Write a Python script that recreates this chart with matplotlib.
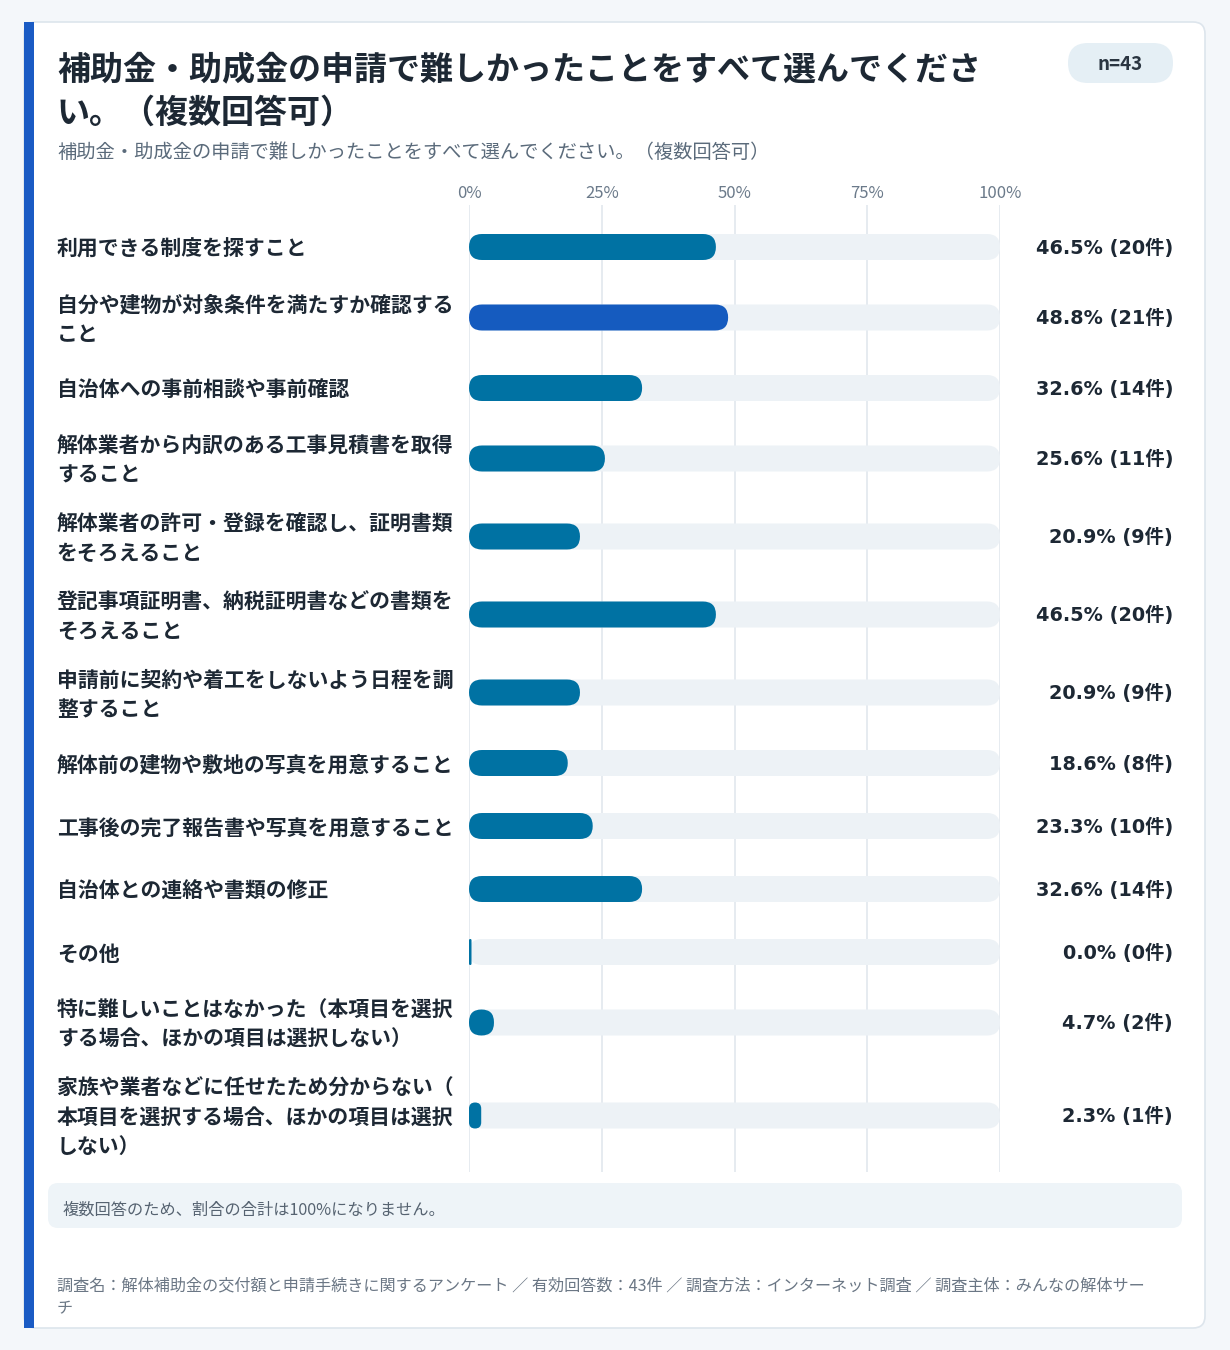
import matplotlib
matplotlib.use("Agg")
import matplotlib.pyplot as plt
from matplotlib.patches import FancyBboxPatch, Rectangle

plt.rcParams['font.family'] = ['Noto Sans CJK JP', 'DejaVu Sans']

# ---------------- data ----------------
title = "補助金・助成金の申請で難しかったことをすべて選んでくださ\nい。（複数回答可）"
subtitle = "補助金・助成金の申請で難しかったことをすべて選んでください。（複数回答可）"
n_label = "n=43"
categories = [
    "利用できる制度を探すこと",
    "自分や建物が対象条件を満たすか確認する\nこと",
    "自治体への事前相談や事前確認",
    "解体業者から内訳のある工事見積書を取得\nすること",
    "解体業者の許可・登録を確認し、証明書類\nをそろえること",
    "登記事項証明書、納税証明書などの書類を\nそろえること",
    "申請前に契約や着工をしないよう日程を調\n整すること",
    "解体前の建物や敷地の写真を用意すること",
    "工事後の完了報告書や写真を用意すること",
    "自治体との連絡や書類の修正",
    "その他",
    "特に難しいことはなかった（本項目を選択\nする場合、ほかの項目は選択しない）",
    "家族や業者などに任せたため分からない（\n本項目を選択する場合、ほかの項目は選択\nしない）",
]
percents = [46.5, 48.8, 32.6, 25.6, 20.9, 46.5, 20.9, 18.6, 23.3, 32.6, 0.0, 4.7, 2.3]
counts = [20, 21, 14, 11, 9, 20, 9, 8, 10, 14, 0, 2, 1]
ticks = [0, 25, 50, 75, 100]
tick_labels = ["0%", "25%", "50%", "75%", "100%"]
note = "複数回答のため、割合の合計は100%になりません。"
footer = ("調査名：解体補助金の交付額と申請手続きに関するアンケート ／ 有効回答数：43件 ／ "
          "調査方法：インターネット調査 ／ 調査主体：みんなの解体サー\nチ")

# ---------------- style ----------------
W, H = 1230, 1350
BG = "#f4f7fa"
CARD_EDGE = "#dde5ec"
ACCENT = "#1a5bc4"
BAR = "#0072a3"
BAR_HI = "#155bbf"
TRACK = "#edf2f6"
GRID = "#e2e8ee"
DARK = "#1d2834"
SUB = "#5b6b7b"
TICK = "#6b7a8a"

fig = plt.figure(figsize=(W / 100, H / 100), dpi=100, facecolor=BG)
bg = fig.add_axes([0, 0, 1, 1])
bg.set_xlim(0, W)
bg.set_ylim(H, 0)
bg.axis("off")
bg.set_facecolor(BG)


def mtext(ax, x, y, s, lh, **kw):
    lines = s.split("\n")
    n = len(lines)
    for i, ln in enumerate(lines):
        ax.text(x, y + (i - (n - 1) / 2) * lh, ln, **kw)


# card
bg.add_patch(FancyBboxPatch((24, 22), 1181, 1306, boxstyle="round,pad=0,rounding_size=12",
                            fc="white", ec=CARD_EDGE, lw=1.2, zorder=1))
bg.add_patch(Rectangle((24, 22), 10, 1306, fc=ACCENT, ec="none", zorder=2))

# title / subtitle
mtext(bg, 57, 91.5, title, 44, fontsize=23.8, fontweight="bold", color=DARK,
      ha="left", va="center", zorder=3)
bg.text(57, 152, subtitle, fontsize=13.9, color=SUB, ha="left", va="center", zorder=3)

# n pill
bg.add_patch(FancyBboxPatch((1068, 43), 105, 40, boxstyle="round,pad=0,rounding_size=20",
                            fc="#e5eff5", ec="none", zorder=2))
bg.text(1120.5, 64, n_label, fontsize=13.5, fontweight="bold", color="#2a3541",
        ha="center", va="center", zorder=3)

# ---------------- bar area ----------------
ax_left, ax_right, ax_top, ax_bot = 469, 1000, 205, 1172
ax = fig.add_axes([ax_left / W, 1 - ax_bot / H, (ax_right - ax_left) / W, (ax_bot - ax_top) / H])
ax.set_facecolor("none")
ax_h = ax_bot - ax_top
ax.set_xlim(0, 100)
ax.set_ylim(ax_h, 0)
for s in ax.spines.values():
    s.set_visible(False)
ax.xaxis.tick_top()
ax.set_xticks(ticks)
ax.set_xticklabels(tick_labels)
ax.tick_params(axis="x", length=0, pad=2, labelsize=12, labelcolor=TICK)
ax.set_yticks([])
for t in ticks:
    ax.axvline(t, color=GRID, lw=1.2, zorder=0)

ppx = (ax_right - ax_left) / 100.0  # pixels per percent
row_h = {1: 63, 2: 78, 3: 108}
bar_h = 26
start = 10.5
centers = []
for lab in categories:
    h = row_h[lab.count("\n") + 1]
    centers.append(start + h / 2)
    start += h

vmax = max(percents)
for lab, v, c, yc in zip(categories, percents, counts, centers):
    # track
    r_full = (bar_h / 2) / ppx
    ax.add_patch(FancyBboxPatch((0, yc - bar_h / 2), 100, bar_h,
                                boxstyle=f"round,pad=0,rounding_size={r_full}",
                                mutation_aspect=ppx, fc=TRACK, ec="none", zorder=1))
    w = max(v, 2.5 / ppx)
    r = min(r_full, w / 2)
    ax.add_patch(FancyBboxPatch((0, yc - bar_h / 2), w, bar_h,
                                boxstyle=f"round,pad=0,rounding_size={r}",
                                mutation_aspect=ppx, fc=BAR_HI if v == vmax else BAR,
                                ec="none", zorder=2))
    ypx = ax_top + yc
    mtext(bg, 57, ypx + 2, lab, 29, fontsize=15.0, fontweight="bold", color=DARK,
          ha="left", va="center", zorder=3)
    bg.text(1173, ypx + 1, f"{v:.1f}% ({c}件)", fontsize=13.9, fontweight="bold",
            color=DARK, ha="right", va="center", zorder=3,
            family=["DejaVu Sans", "Noto Sans CJK JP"])

# note box
bg.add_patch(FancyBboxPatch((48, 1183), 1134, 45, boxstyle="round,pad=0,rounding_size=10",
                            fc="#eef4f8", ec="none", zorder=2))
bg.text(63, 1210, note, fontsize=11.7, color="#566371", ha="left", va="center", zorder=3)

# footer
mtext(bg, 57, 1297.5, footer, 23, fontsize=11.6, color="#6b7785", ha="left",
      va="center", zorder=3)

fig.savefig("out.png", dpi=100, facecolor=BG)
